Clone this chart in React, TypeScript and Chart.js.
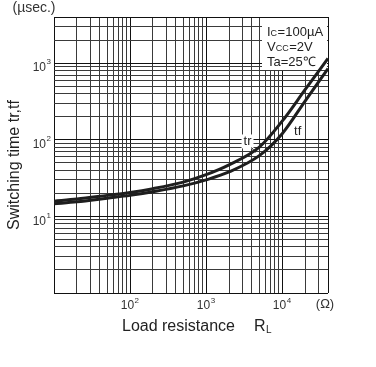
import React, { useEffect, useRef } from "react";
import { Chart, registerables } from "chart.js";

Chart.register(...registerables);

// Load resistance (ohm) sample points
const resistance = [10, 20, 50, 100, 200, 500, 1000, 2000, 5000, 10000, 20000, 40000];
// Switching times (usec)
const trValues = [15.8, 16.8, 18.8, 20.5, 23, 28, 35, 47, 80, 175, 450, 1150];
const tfValues = [14.6, 15.5, 17.3, 18.8, 21, 25, 30, 38, 62, 120, 320, 850];

// grid (tick) values
const xGridValues = [
  10, 20, 30, 40, 50, 60, 70, 80, 90,
  100, 200, 300, 400, 500, 600, 700, 800, 900,
  1000, 2000, 3000, 4000, 5000, 6000, 7000, 8000, 9000,
  10000, 20000, 30000, 40000,
];
const yGridValues = [
  1, 2, 3, 4, 5, 6, 7, 8, 9,
  10, 20, 30, 40, 50, 60, 70, 80, 90,
  100, 200, 300, 400, 500, 600, 700, 800, 900,
  1000, 2000, 3000, 4000,
];
const xDecades = [10, 100, 1000, 10000];
const yDecades = [1, 10, 100, 1000];

// tick labels
const xLabelValues = [100, 1000, 10000];
const xLabelExps = ["2", "3", "4"];
const yLabelValues = [10, 100, 1000];
const yLabelExps = ["1", "2", "3"];

const FONT = '"Liberation Sans", Arial, Helvetica, sans-serif';

const overlayPlugin = {
  id: "overlay",
  beforeDatasetsDraw(chart: any) {
    const { ctx, chartArea: a } = chart;
    ctx.save();
    ctx.fillStyle = "#ffffff";
    ctx.fillRect(a.right - 66, a.top + 1, 65, 52);
    ctx.restore();
  },
  afterDraw(chart: any) {
    const { ctx, chartArea: a } = chart;
    const xs = chart.scales.x;
    const ys = chart.scales.y;
    ctx.save();

    // y tick labels
    ctx.fillStyle = "#333";
    yLabelValues.forEach((v, i) => {
      const py = ys.getPixelForValue(v);
      ctx.font = `12px ${FONT}`;
      ctx.textAlign = "right";
      ctx.textBaseline = "middle";
      ctx.fillText("10", a.left - 8, py + 5);
      ctx.font = `8px ${FONT}`;
      ctx.textAlign = "left";
      ctx.fillText(yLabelExps[i], a.left - 7.5, py - 1);
    });

    // x tick labels
    xLabelValues.forEach((v, i) => {
      const px = xs.getPixelForValue(v);
      ctx.font = `12px ${FONT}`;
      ctx.textAlign = "right";
      ctx.textBaseline = "middle";
      ctx.fillText("10", px + 4, a.bottom + 13);
      ctx.font = `8px ${FONT}`;
      ctx.textAlign = "left";
      ctx.fillText(xLabelExps[i], px + 4.5, a.bottom + 8);
    });

    // unit labels
    ctx.font = `13px ${FONT}`;
    ctx.textAlign = "center";
    ctx.textBaseline = "middle";
    ctx.fillText("(\u03A9)", a.right - 3, a.bottom + 11);
    ctx.font = `14px ${FONT}`;
    ctx.fillText("(\u00B5sec.)", a.left - 20, a.top - 9);

    // axis titles
    ctx.fillStyle = "#222";
    ctx.font = `16px ${FONT}`;
    ctx.save();
    ctx.translate(15, (a.top + a.bottom) / 2 + 10);
    ctx.rotate(-Math.PI / 2);
    ctx.textAlign = "center";
    ctx.textBaseline = "middle";
    ctx.fillText("Switching time tr,tf", 0, 0);
    ctx.restore();

    ctx.textAlign = "left";
    ctx.textBaseline = "middle";
    const tx = a.left + 68;
    const ty = a.bottom + 34;
    ctx.font = `16px ${FONT}`;
    const main = "Load resistance";
    ctx.fillText(main, tx, ty);
    const rx = tx + ctx.measureText(main).width + 19;
    ctx.fillText("R", rx, ty);
    const rw = ctx.measureText("R").width;
    ctx.font = `10px ${FONT}`;
    ctx.fillText("L", rx + rw + 0.5, ty + 3);

    // conditions
    ctx.fillStyle = "#222";
    const lx = a.right - 61;
    const drawSub = (big: string, sub: string, rest: string, y: number) => {
      let x = lx;
      ctx.font = `13px ${FONT}`;
      ctx.textBaseline = "middle";
      ctx.textAlign = "left";
      ctx.fillText(big, x, y);
      x += ctx.measureText(big).width;
      if (sub) {
        ctx.font = `9px ${FONT}`;
        ctx.fillText(sub, x, y + 2);
        x += ctx.measureText(sub).width + 0.5;
      }
      ctx.font = `13px ${FONT}`;
      ctx.fillText(rest, x, y);
    };
    drawSub("I", "C", "=100\u00B5A", a.top + 15);
    drawSub("V", "CC", "=2V", a.top + 30);
    drawSub("Ta=25\u2103", "", "", a.top + 45);

    // curve labels
    const label = (t: string, xv: number, yv: number) => {
      const px = xs.getPixelForValue(xv);
      const py = ys.getPixelForValue(yv);
      ctx.font = `13px ${FONT}`;
      const w = ctx.measureText(t).width;
      ctx.fillStyle = "#fff";
      ctx.fillRect(px - w / 2 - 2, py - 7, w + 4, 14);
      ctx.fillStyle = "#222";
      ctx.textAlign = "center";
      ctx.textBaseline = "middle";
      ctx.fillText(t, px, py);
      return { px, py };
    };
    const trp = label("tr", 3500, 95);
    label("tf", 16000, 127);
    ctx.strokeStyle = "#222";
    ctx.lineWidth = 1;
    ctx.beginPath();
    ctx.moveTo(trp.px + 4, trp.py + 6);
    ctx.lineTo(trp.px + 8, trp.py + 11);
    ctx.stroke();

    ctx.restore();
  },
};

const gridColor = (decades: number[], edges: number[]) => (c: any) => {
  const v = c.tick ? c.tick.value : null;
  if (v !== null && (decades.includes(v) || edges.includes(v))) return "#111";
  return "#3a3a3a";
};

export default function App() {
  const ref = useRef<HTMLCanvasElement>(null);
  useEffect(() => {
    if (!ref.current) return;
    const chart = new Chart(ref.current, {
      type: "line",
      data: {
        datasets: [
          {
            label: "tr",
            data: resistance.map((r, i) => ({ x: r, y: trValues[i] })),
            borderColor: "#1e1e1e",
            borderWidth: 3,
            pointRadius: 0,
            cubicInterpolationMode: "monotone",
            fill: false,
          },
          {
            label: "tf",
            data: resistance.map((r, i) => ({ x: r, y: tfValues[i] })),
            borderColor: "#1e1e1e",
            borderWidth: 3,
            pointRadius: 0,
            cubicInterpolationMode: "monotone",
            fill: false,
          },
        ],
      },
      options: {
        responsive: false,
        animation: false,
        layout: { padding: { left: 54, top: 17, right: 48, bottom: 74 } },
        plugins: { legend: { display: false }, tooltip: { enabled: false } },
        scales: {
          x: {
            type: "logarithmic",
            min: 10,
            max: 40000,
            afterBuildTicks: (s: any) => {
              s.ticks = xGridValues.map((v) => ({ value: v }));
            },
            afterFit: (s: any) => {
              s.height = 0;
            },
            ticks: { display: false },
            grid: { drawTicks: false, color: gridColor(xDecades, [10, 40000]), lineWidth: 1 },
            border: { display: false },
          },
          y: {
            type: "logarithmic",
            min: 1,
            max: 4000,
            afterBuildTicks: (s: any) => {
              s.ticks = yGridValues.map((v) => ({ value: v }));
            },
            afterFit: (s: any) => {
              s.width = 0;
            },
            ticks: { display: false },
            grid: { drawTicks: false, color: gridColor(yDecades, [1, 4000]), lineWidth: 1 },
            border: { display: false },
          },
        },
      },
      plugins: [overlayPlugin],
    } as any);
    return () => chart.destroy();
  }, []);
  return (
    <div style={{ position: "absolute", left: 0, top: 0, width: 376, height: 367, background: "#fff" }}>
      <canvas ref={ref} width={376} height={367} style={{ display: "block" }} />
    </div>
  );
}
